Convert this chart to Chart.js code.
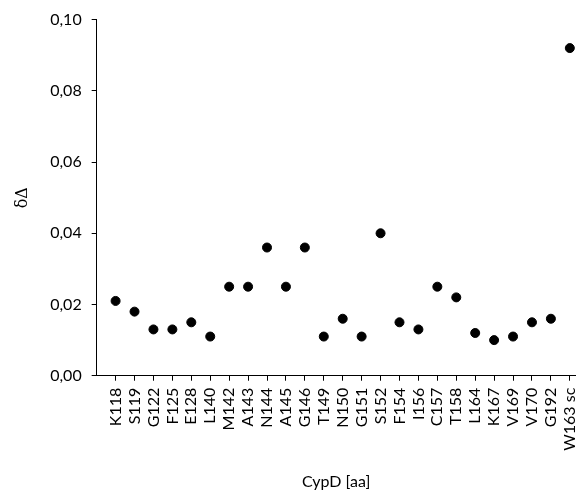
<!DOCTYPE html>
<html><head><meta charset="utf-8">
<script src="https://cdn.jsdelivr.net/npm/chart.js@4/dist/chart.umd.min.js"></script>
<style>html,body{margin:0;padding:0;background:#fff}#w{width:581px;height:497px}</style>
</head><body><div id="w"><canvas id="c"></canvas></div>
<script>
const categories = ["K118","S119","G122","F125","E128","L140","M142","A143","N144","A145","G146","T149","N150","G151","S152","F154","I156","C157","T158","L164","K167","V169","V170","G192","W163 sc"];
const values = [0.021,0.018,0.013,0.013,0.015,0.011,0.025,0.025,0.036,0.025,0.036,0.011,0.016,0.011,0.040,0.015,0.013,0.025,0.022,0.012,0.010,0.011,0.015,0.016,0.092];
const yTicks = [0,0.02,0.04,0.06,0.08,0.10];
const FONT = "Lato, 'Open Sans', sans-serif";
const pts = values.map((v,i)=>({x:i+1,y:v}));
new Chart(document.getElementById('c'),{
  type:'scatter',
  data:{datasets:[{data:pts,backgroundColor:'#000',borderColor:'#000',pointRadius:4.5,pointHoverRadius:4.5}]},
  options:{
    responsive:true,maintainAspectRatio:false,animation:false,
    layout:{padding:{top:15,right:0,left:9,bottom:2}},
    plugins:{legend:{display:false},tooltip:{enabled:false}},
    scales:{
      x:{type:'linear',min:0,max:25.3,
        afterBuildTicks:(ax)=>{ax.ticks=categories.map((c,i)=>({value:i+1}));},
        afterFit:(s)=>{s.paddingRight=0;s.paddingLeft=0;},
        ticks:{autoSkip:false,maxRotation:90,minRotation:90,color:'#000',font:{family:FONT,size:16},padding:7,
          callback:(v)=>categories[v-1]},
        grid:{drawOnChartArea:false,drawTicks:true,tickLength:5,color:'#000'},
        border:{display:true,color:'#000',width:1},
        title:{display:true,text:'CypD [aa]',color:'#000',font:{family:FONT,size:16},padding:{top:14}}
      },
      y:{min:0,max:0.1,
        afterBuildTicks:(ax)=>{ax.ticks=yTicks.map(v=>({value:v}));},
        ticks:{color:'#000',font:{family:FONT,size:16},padding:10,
          callback:(v)=>v.toFixed(2).replace('.',',')},
        grid:{drawOnChartArea:false,drawTicks:true,tickLength:5,color:'#000'},
        border:{display:true,color:'#000',width:1},
        title:{display:true,text:'δΔ',color:'#000',font:{family:"'DejaVu Serif', serif",size:16},padding:{bottom:8}}
      }
    }
  }
});
</script></body></html>
